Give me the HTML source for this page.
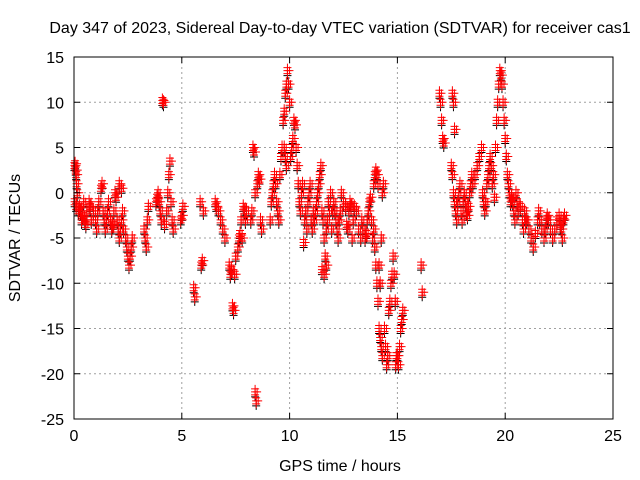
<!DOCTYPE html>
<html><head><meta charset="utf-8"><style>
body{margin:0;background:#fff;}
svg{display:block;font-family:"Liberation Sans",sans-serif;}
</style></head><body>
<svg id="chart" width="640" height="480">
<text x="340" y="33" text-anchor="middle" font-size="16">Day 347 of 2023, Sidereal Day-to-day VTEC variation (SDTVAR) for receiver cas1</text>
<text x="340" y="471" text-anchor="middle" font-size="16">GPS time / hours</text>
<text transform="translate(20,238) rotate(-90)" text-anchor="middle" font-size="16">SDTVAR / TECUs</text>
<g id="grid"></g>
<g id="marks"></g>
<rect x="74" y="57" width="539" height="362" fill="none" stroke="#000"/>
<g id="ticks"></g>
</svg>
<script>
const xTicks=[0,5,10,15,20,25];
const yTicks=[-25,-20,-15,-10,-5,0,5,10,15];
const samples=[
[0.02,3],[0.05,3.2],[0.08,2.5],[0.1,2],[0.12,1],[0.15,0],[0.03,-1],[0.1,-1.5],[0.2,-2],[0.25,-1.5],[0.3,-2],[0.35,-3],[0.4,-2.5],[0.45,-1],[0.5,-3],[0.55,-3.5],[0.6,-2],[0.7,-1],[0.75,-1.5],[0.8,-3],[0.9,-2],
[1.0,-3],[1.05,-4],[1.1,-2],[1.15,-1],[1.25,0.5],[1.3,1],[1.35,-2],[1.4,-3],[1.45,-4],[1.5,-3],[1.55,-2],[1.6,-1],[1.7,-3],[1.75,-4],[1.8,-3.5],[1.85,-2],[1.9,0],[1.95,-0.5],
[2.0,-3],[2.05,-4],[2.1,-5],[2.15,-4],[2.2,-3],[2.25,-2],[2.3,-4],[2.4,-5],[2.45,-6],[2.5,-7],[2.55,-8],[2.6,-7],[2.65,-6],[2.7,-5],[2.1,1],[2.2,0.5],
[3.25,-4],[3.3,-5],[3.35,-6],[3.4,-3],[3.45,-1.5],
[3.8,-1],[3.85,-0.5],[3.9,0],[3.95,-1],[4.0,-2],[4.05,-3],[4.1,10.2],[4.15,10],[4.2,-3.5],[4.3,-2],[4.35,0],[4.4,2],[4.45,3.5],[4.5,-1],[4.55,-3],[4.6,-4],
[4.95,-3],[5.0,-2.5],[5.05,-1.5],
[5.55,-10.5],[5.6,-11.5],[5.9,-8],[5.95,-7.5],[5.85,-1],[6.0,-2],
[6.6,-1.5],[6.7,-2],[6.8,-3],[6.9,-4],[7.0,-5],[6.55,-1],
[7.2,-8],[7.25,-9],[7.3,-8.5],[7.35,-12.5],[7.4,-13],[7.45,-9],[7.5,-7],[7.6,-6],[7.65,-5],[7.75,-3],[7.85,-1.5],[7.9,-2],[7.95,-3],[7.7,-4.5],[7.8,-5],[8.0,-2],
[8.3,5],[8.35,4.5],[8.4,-22],[8.45,-23],[8.2,-3],[8.25,-2],[8.4,0],[8.5,1],[8.55,2],[8.6,1.5],[8.65,-3],[8.7,-4],
[9.1,-3],[9.15,-1],[9.2,0],[9.25,1],[9.3,2],[9.35,1],[9.4,-1],[9.45,-2],[9.5,-3],
[9.55,2],[9.6,4],[9.65,5],[9.7,8],[9.75,9],[9.8,11],[9.85,12],[9.9,13.5],[9.95,12],[10.0,10],[9.75,5],[9.8,4],[9.85,3],
[10.05,4],[10.1,5],[10.15,6],[10.2,8],[10.25,7.5],[10.3,5],[10.35,3],[10.4,1],[10.45,-1],[10.5,-2],[10.55,0],[10.6,1],
[10.65,-5.5],[10.7,-3],[10.75,-2],[10.8,-4],[10.85,-1],[10.9,0],[10.95,1],[11.0,-3],[11.05,-4],[11.1,-2],
[11.15,-3],[11.2,-2],[11.25,-1],[11.3,0],[11.35,1],[11.4,2],[11.45,3],[11.5,-2],[11.55,-3],[11.6,-5],[11.65,-7],[11.7,-4],[11.75,-3],[11.8,-1],[11.85,-2],[11.9,0],[11.5,-8.5],[11.6,-9],[11.7,-8],[11.95,-4],[12.0,-2],[12.05,-1],
[12.1,-2],[12.15,-3],[12.2,-4],[12.25,-5],[12.3,-3],[12.35,-2],[12.4,0],[12.5,-1],[12.6,-1.5],[12.65,-3.5],[12.7,-4],[12.75,-2],[12.8,-1],[12.85,-1.5],[12.9,-5],[12.95,-3],
[13.0,-1.5],[13.1,-2],[13.2,-4],[13.3,-5],[13.35,-3],[13.4,-4],[13.5,-5],[13.55,-4.5],[13.6,-3],[13.65,-2],[13.7,-1],[13.75,-0.5],[13.8,-3],[13.85,-5],
[13.9,1],[13.95,2],[14.0,2.5],[14.05,2],[14.1,1],[13.9,-4],[13.95,-6],[14.0,-8],[14.05,-10],[14.1,-12],[14.15,-15],[14.2,-16],[14.25,-17],[14.3,-18],[14.2,-10],[14.15,-8],[14.25,-5],[14.3,0],[14.35,1],
[14.4,-15],[14.45,-17],[14.5,-19],[14.55,-18],[14.6,-13],[14.65,-12],[14.7,-10],[14.75,-9],[14.8,-7],[14.85,-9],[14.9,-12],[14.95,-18],[14.92,-19],
[15.0,-18],[15.05,-19],[15.1,-17],[15.15,-15],[15.2,-14],[15.25,-13],
[16.1,-8],[16.15,-11],
[16.95,11],[17.0,10],[17.05,8],[17.1,6],[17.15,5.5],
[17.55,11],[17.6,10],[17.65,7],[17.5,3],[17.55,2],
[17.6,0],[17.65,-1],[17.7,-2],[17.75,-3],[17.8,-1],[17.85,0],[17.9,1],[17.95,-2],[18.0,-3],[18.05,-1],[18.1,0],[18.15,-1],[18.2,-2],[18.25,-2.5],[18.3,-1.5],[18.35,0],[18.4,1],[18.45,2],
[18.5,1],[18.6,2],[18.7,3],[18.8,4],[18.9,5],[18.95,0],[19.0,-1],[19.05,-2],[19.1,-1],[19.15,1],[19.2,2],[19.25,3],[19.3,4],[19.35,3],[19.4,1],[19.45,2],[19.5,-0.5],
[19.55,5],[19.6,8],[19.65,10],[19.7,12],[19.75,13.5],[19.8,13],[19.85,12],[19.9,10],[19.95,8],[20.0,6],[20.05,4],[20.1,2],[20.15,1],[20.2,0],[20.25,-1],[20.3,-0.5],
[20.35,-1],[20.4,-2],[20.45,-3],[20.5,0],[20.55,-1],[20.6,-2],[20.7,-1.5],[20.8,-3],[20.85,-4],[20.9,-2],[20.95,-3],
[21.0,-3],[21.1,-4],[21.2,-5],[21.3,-6],[21.4,-4.5],[21.5,-3],[21.55,-2],[21.6,-3],[21.7,-4],[21.8,-5],[21.85,-4],[21.9,-3],[21.95,-2.5],
[22.0,-3],[22.1,-4],[22.2,-5],[22.3,-4],[22.4,-3],[22.5,-2.5],[22.55,-3.5],[22.6,-4],[22.65,-5],[22.7,-3],[22.75,-2.5]
];
const NS='http://www.w3.org/2000/svg';
const L=74,R=613,T=57,B=419;
function xs(v){return L+(v-0)/(25-0)*(R-L);}
function ys(v){return B-(v+25)/(40)*(B-T);}
const grid=document.getElementById('grid'),ticks=document.getElementById('ticks'),marks=document.getElementById('marks');
function mk(tag,at,parent){const e=document.createElementNS(NS,tag);for(const k in at)e.setAttribute(k,at[k]);parent.appendChild(e);return e;}
xTicks.forEach(t=>{const x=xs(t);
 if(t>0&&t<25){const g=mk('line',{x1:x,x2:x,y1:T,y2:B,stroke:'#a0a0a0','stroke-dasharray':'2,3'},grid);
 }
 const a=mk('line',{x1:x,x2:x,y1:B,y2:B-6,stroke:'#000'},ticks);
 const b=mk('line',{x1:x,x2:x,y1:T,y2:T+6,stroke:'#000'},ticks);
 const tx=mk('text',{x:x,y:B+22,'text-anchor':'middle','font-size':'16'},ticks);tx.textContent=t;
 });
yTicks.forEach(t=>{const y=ys(t);
 if(t>-25&&t<15){const g=mk('line',{x1:L,x2:R,y1:y,y2:y,stroke:'#a0a0a0','stroke-dasharray':'2,3'},grid);
 }
 const a=mk('line',{x1:L,x2:L+6,y1:y,y2:y,stroke:'#000'},ticks);
 const b=mk('line',{x1:R,x2:R-6,y1:y,y2:y,stroke:'#000'},ticks);
 const tx=mk('text',{x:L-10,y:y+6,'text-anchor':'end','font-size':'16'},ticks);tx.textContent=t;
 });
function cross(x,y,c){const p=mk('path',{d:`M${x-4},${y}h8M${x},${y-4}v8`,stroke:c,'stroke-width':'1',fill:'none'},marks);return p;}
samples.forEach(s=>{const p=cross(xs(s[0]),ys(s[1])+5,'#000');
 });
samples.forEach(s=>{const x=xs(s[0]),y=ys(s[1]);
 [[0,0],[0,3],[0,-3],[2,0]].forEach(o=>{const p=cross(x+o[0],y+o[1],'#f00');
 });});
</script>
</body></html>
